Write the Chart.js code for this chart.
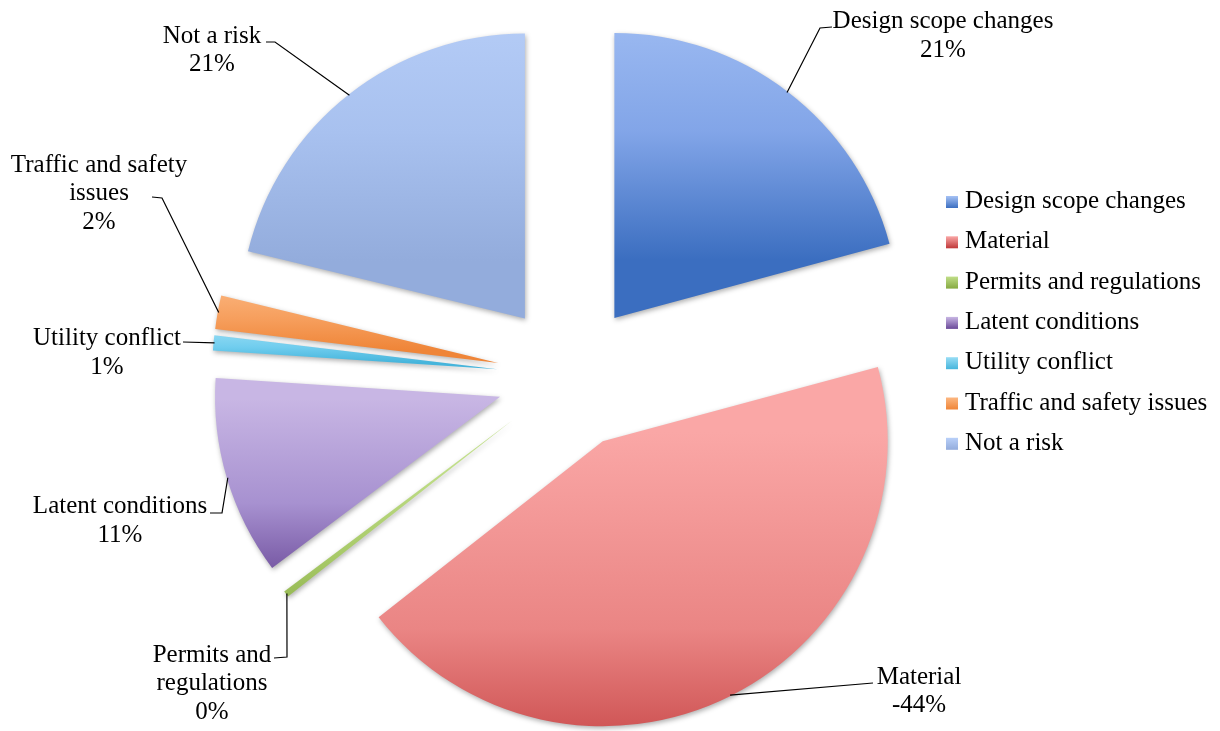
<!DOCTYPE html>
<html>
<head>
<meta charset="utf-8">
<title>Risk categories</title>
<script src="https://cdn.jsdelivr.net/npm/chart.js@4.4.1/dist/chart.umd.min.js"></script>
<style>
  html, body { margin: 0; padding: 0; background: #ffffff; }
  canvas { display: block; }
</style>
</head>
<body>
<canvas id="pie" width="1220" height="731"></canvas>
<script>
// ---- data ----
const categories = [
  'Design scope changes',
  'Material',
  'Permits and regulations',
  'Latent conditions',
  'Utility conflict',
  'Traffic and safety issues',
  'Not a risk'
];
// shares in percent; the Material entry is recorded as negative, the pie uses its magnitude
const shares = [20.8, -43.6, 0.35, 11.3, 0.85, 1.9, 21.2];
// category names as they wrap inside the callouts
const calloutNames = [
  ['Design scope changes'],
  ['Material'],
  ['Permits and', 'regulations'],
  ['Latent conditions'],
  ['Utility conflict'],
  ['Traffic and safety', 'issues'],
  ['Not a risk']
];

// ---- styling ----
const lightColors = ['#a6c2f5', '#faa7a6', '#c0de88', '#c8b6e4', '#98ddf5', '#fcb781', '#b9d0f9'];
const midColors   = ['#82a5e8', '#ea8584', '#a6c866', '#a791d0', '#70cdee', '#f69e5c', '#a8c1ef'];
const darkColors  = ['#3b6ec0', '#bf3839', '#86a941', '#6a4998', '#46b5dc', '#ef8538', '#93acdc'];
const EXPLODE = 73;      // how far each slice is pulled out from the centre
const RADIUS = 285;
const FONT = '25px "Liberation Serif", "Times New Roman", serif';
const LINE_H = 28.5;

// callout placement: text centre x, first baseline, leader bend points (from pie outwards)
const calloutLayout = [
  { x: 943, y: 28,    path: [[820, 28], [832, 27]] },
  { x: 919, y: 683.5, path: [[873, 683]] },
  { x: 212, y: 661.5, path: [[287, 657], [274, 658]] },
  { x: 120, y: 513,   path: [[222, 513], [210, 513]] },
  { x: 107, y: 345,   path: [[183, 342]] },
  { x: 99,  y: 171.5, path: [[162, 198], [152, 197]] },
  { x: 212, y: 42.5,  path: [[275, 42], [266, 42]] }
];
const legendLayout = { boxX: 946, textX: 965, firstBaseline: 208, step: 40.3, box: 12 };

// vertical extent of an exploded slice, worked out from the data and chart area
function sliceExtent(chart, i) {
  const area = chart.chartArea;
  const cx = (area.left + area.right) / 2;
  const cy = (area.top + area.bottom) / 2;
  const vals = chart.data.datasets[0].data.map(v => Math.abs(v));
  const total = vals.reduce((a, b) => a + b, 0);
  let s = -Math.PI / 2;
  for (let k = 0; k < i; k++) s += 2 * Math.PI * vals[k] / total;
  const e = s + 2 * Math.PI * vals[i] / total;
  const mid = (s + e) / 2;
  const oy = cy + Math.sin(mid) * EXPLODE;
  const ys = [oy, oy + RADIUS * Math.sin(s), oy + RADIUS * Math.sin(e)];
  [-Math.PI / 2, Math.PI / 2, 3 * Math.PI / 2].forEach(t => {
    if (t >= s && t <= e) ys.push(oy + RADIUS * Math.sin(t));
  });
  return [Math.min(...ys), Math.max(...ys)];
}

function sliceFill(context) {
  const chart = context.chart;
  const i = context.dataIndex;
  if (!chart.chartArea) return lightColors[i];
  const [top, bottom] = sliceExtent(chart, i);
  const g = chart.ctx.createLinearGradient(0, top, 0, bottom);
  g.addColorStop(0, lightColors[i]);
  g.addColorStop(0.55, midColors[i]);
  g.addColorStop(1, darkColors[i]);
  return g;
}

// draws every arc pulled out along its bisector, with a soft drop shadow
const explodedSlices = {
  id: 'explodedSlices',
  beforeDatasetDraw(chart, args) {
    const ctx = chart.ctx;
    ctx.save();
    ctx.shadowColor = 'rgba(0,0,0,0.32)';
    ctx.shadowBlur = 5;
    ctx.shadowOffsetX = 1;
    ctx.shadowOffsetY = 2;
    args.meta.data.forEach(arc => {
      const mid = (arc.startAngle + arc.endAngle) / 2;
      ctx.save();
      ctx.translate(Math.cos(mid) * EXPLODE, Math.sin(mid) * EXPLODE);
      arc.draw(ctx);
      ctx.restore();
    });
    ctx.restore();
    return false;
  }
};

// name + percentage callouts with leader lines
const callouts = {
  id: 'callouts',
  afterDatasetsDraw(chart) {
    const ctx = chart.ctx;
    const meta = chart.getDatasetMeta(0);
    const data = chart.data.datasets[0].data;
    ctx.save();
    ctx.strokeStyle = '#000';
    ctx.lineWidth = 1.2;
    ctx.fillStyle = '#000';
    ctx.font = FONT;
    ctx.textAlign = 'center';
    ctx.textBaseline = 'alphabetic';
    meta.data.forEach((arc, i) => {
      const mid = (arc.startAngle + arc.endAngle) / 2;
      const px = arc.x + Math.cos(mid) * (EXPLODE + arc.outerRadius - 1);
      const py = arc.y + Math.sin(mid) * (EXPLODE + arc.outerRadius - 1);
      const lay = calloutLayout[i];
      ctx.beginPath();
      ctx.moveTo(px, py);
      lay.path.forEach(p => ctx.lineTo(p[0], p[1]));
      ctx.stroke();
      const lines = calloutNames[i].concat([Math.round(data[i]) + '%']);
      lines.forEach((t, k) => ctx.fillText(t, lay.x, lay.y + k * LINE_H));
    });
    ctx.restore();
  }
};

// legend column on the right
const sideLegend = {
  id: 'sideLegend',
  afterDraw(chart) {
    const ctx = chart.ctx;
    const L = legendLayout;
    ctx.save();
    ctx.font = FONT;
    ctx.textAlign = 'left';
    ctx.textBaseline = 'alphabetic';
    chart.data.labels.forEach((label, i) => {
      const base = L.firstBaseline + i * L.step;
      const g = ctx.createLinearGradient(0, base - L.box, 0, base);
      g.addColorStop(0, lightColors[i]);
      g.addColorStop(1, darkColors[i]);
      ctx.fillStyle = g;
      ctx.fillRect(L.boxX, base - L.box, L.box, L.box);
      ctx.fillStyle = '#000';
      ctx.fillText(label, L.textX, base);
    });
    ctx.restore();
  }
};

new Chart(document.getElementById('pie'), {
  type: 'pie',
  data: {
    labels: categories,
    datasets: [{
      data: shares,
      backgroundColor: sliceFill,
      borderWidth: 0,
      radius: RADIUS
    }]
  },
  options: {
    responsive: false,
    animation: false,
    events: [],
    radius: RADIUS,
    layout: { padding: { left: 0, right: 80, top: 21, bottom: 0 } },
    plugins: {
      legend: { display: false },
      tooltip: { enabled: false }
    }
  },
  plugins: [explodedSlices, callouts, sideLegend]
});
</script>
</body>
</html>
